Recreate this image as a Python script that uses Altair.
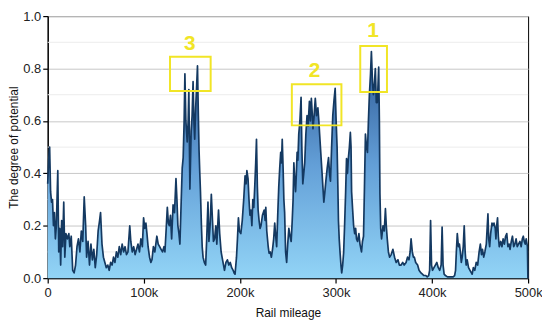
import altair as alt
import pandas as pd

# Rail mileage (in thousands) and the degree of potential
mileage_k = [0, 1, 2, 3, 4, 5, 6, 7, 8, 9, 10.5, 11.5, 12.5, 13.5, 14.5, 15.5, 16.7, 17.8, 19, 20.5,
             22, 23, 24.5, 26, 27.5, 29, 30.5, 32, 33.5, 35, 36.5, 38, 39.5, 40.5, 42, 43.5, 45, 46.5, 48, 49.5,
             51, 52.5, 54, 55, 56.5, 58, 59.5, 61, 62.5, 64, 65.5, 67, 68.5, 70, 71.5, 73, 74.5, 76, 77.5, 79,
             80.5, 82, 83.5, 85.4, 86.5, 88, 89.5, 91, 92.5, 94, 95.5, 97, 98.5, 99.8, 101, 102.2, 103.3, 104.5, 106, 107.4,
             108.5, 110, 111.5, 113.6, 115, 116.5, 118, 119.5, 121, 122, 123.5, 124.5, 125.6, 126.6, 127.8, 129, 130.5, 132, 133.5, 134.5,
             135.5, 136.6, 137.6, 139, 140, 141, 142, 142.8, 143.8, 145.2, 146.2, 146.9, 148, 149.3, 150.3, 151.3, 152.2, 153, 154, 155.1,
             155.9, 156.8, 157.5, 158.3, 159, 160, 160.8, 161.7, 163, 164.4, 165.5, 166.8, 167.8, 169, 170.3, 171.5, 172.5, 173.7, 175, 176,
             177.8, 179, 180.5, 182, 183, 184, 185.5, 187, 188.5, 190, 191.5, 193, 194, 195, 196.5, 197.5, 198.5, 199.5, 201, 202.5,
             204, 205.4, 206.5, 207.3, 208.5, 209.5, 210.5, 211.5, 212.5, 213.5, 214.5, 215.5, 216.5, 217.3, 218.2, 219, 220, 221, 222, 223.5,
             225.3, 226.3, 227, 228, 229.5, 230.4, 231.5, 232.8, 234, 235.2, 236.3, 237.3, 238.3, 239.5, 240.5, 241.5, 242.5, 243.3, 244.1, 245,
             245.8, 246.6, 247.6, 248.7, 249.8, 251, 252.2, 253.4, 254.5, 255.4, 256.2, 257, 258, 258.8, 259.6, 260.4, 261.3, 262.5, 263.7, 264.5,
             265.5, 266.5, 267.5, 268.7, 269.9, 271, 272.4, 273.4, 274.4, 275.3, 276.1, 277.3, 278.5, 279.8, 281.2, 282.2, 283, 284.2, 285.4, 286.4,
             287.4, 288.5, 289.5, 290.9, 292.3, 293.3, 294.3, 295.5, 296.7, 298, 299.2, 300.2, 301.2, 302, 302.6, 303.4, 304.3, 305.2, 306, 307,
             308, 309, 310.1, 311, 312, 312.9, 314, 315, 315.7, 316.3, 317.4, 318.4, 319.5, 320.5, 321.4, 322.5, 323.9, 325, 326.6, 327.6,
             328.7, 329.7, 330.7, 331.8, 332.8, 333.8, 334.8, 336, 336.9, 338, 339, 340, 341, 342, 343.1, 344.5, 345.2, 345.8, 346.6, 347.5,
             349, 350.3, 351.5, 352.4, 353.4, 354.6, 355.9, 357.5, 359.3, 361, 362.7, 364.5, 366, 367.8, 369.5, 371, 373, 374.5, 376, 377.2,
             378.2, 379.5, 380.6, 381.6, 383, 385, 386.5, 388.5, 390, 391.5, 393.6, 395, 396.5, 397.5, 398.5, 399.5, 400.5, 402, 403.5, 405,
             406.5, 408, 409.5, 410.5, 411.5, 412.6, 414, 416, 418, 420, 422, 423.5, 424.5, 425.3, 426.3, 427.5, 428.5, 429.5, 430.5, 431.4,
             432.5, 433.5, 434.5, 435.5, 436.6, 438, 439.5, 441, 441.8, 443, 444.5, 446, 447.5, 449, 450.3, 451.5, 452.5, 453.8, 455, 456.5,
             457.5, 458.2, 459, 460, 461, 462.4, 463.4, 464.5, 465.8, 466.5, 467.3, 468.2, 469, 470, 471.5, 472.8, 474, 475.3, 476.6, 477.8,
             479, 480.2, 481.2, 482.5, 483.7, 485, 486.2, 487.5, 488.7, 490, 491.5, 492.8, 494, 495, 496, 497, 498, 499.3, 499.8]

potential = [0.36, 0.45, 0.50, 0.33, 0.29, 0.30, 0.20, 0.25, 0.15, 0.20, 0.41, 0.10, 0.19, 0.05, 0.22, 0.12, 0.29, 0.08, 0.17, 0.15,
             0.17, 0.12, 0.16, 0.03, 0.02, 0.05, 0.12, 0.15, 0.10, 0.18, 0.14, 0.31, 0.20, 0.08, 0.14, 0.05, 0.13, 0.07, 0.11, 0.04,
             0.09, 0.18, 0.22, 0.25, 0.13, 0.08, 0.06, 0.04, 0.05, 0.03, 0.06, 0.05, 0.08, 0.06, 0.10, 0.08, 0.12, 0.09, 0.13, 0.10,
             0.12, 0.09, 0.10, 0.20, 0.14, 0.10, 0.12, 0.09, 0.11, 0.13, 0.10, 0.15, 0.12, 0.23, 0.19, 0.21, 0.17, 0.12, 0.08, 0.06,
             0.07, 0.12, 0.10, 0.16, 0.13, 0.12, 0.11, 0.10, 0.12, 0.10, 0.20, 0.27, 0.21, 0.20, 0.24, 0.15, 0.28, 0.25, 0.38, 0.30,
             0.20, 0.17, 0.13, 0.30, 0.42, 0.46, 0.60, 0.78, 0.60, 0.52, 0.60, 0.72, 0.34, 0.56, 0.62, 0.75, 0.60, 0.53, 0.65, 0.74,
             0.81, 0.62, 0.49, 0.40, 0.33, 0.20, 0.12, 0.08, 0.06, 0.05, 0.15, 0.29, 0.14, 0.20, 0.32, 0.22, 0.14, 0.15, 0.20, 0.13,
             0.26, 0.17, 0.10, 0.07, 0.05, 0.03, 0.06, 0.07, 0.05, 0.06, 0.04, 0.03, 0.02, 0.015, 0.08, 0.15, 0.23, 0.18, 0.17, 0.22,
             0.30, 0.39, 0.36, 0.41, 0.38, 0.30, 0.24, 0.26, 0.20, 0.30, 0.27, 0.35, 0.44, 0.53, 0.35, 0.26, 0.22, 0.19, 0.20, 0.24,
             0.26, 0.22, 0.27, 0.18, 0.12, 0.095, 0.10, 0.08, 0.11, 0.15, 0.21, 0.16, 0.12, 0.25, 0.35, 0.42, 0.48, 0.44, 0.53, 0.42,
             0.30, 0.25, 0.10, 0.06, 0.13, 0.19, 0.16, 0.14, 0.22, 0.30, 0.44, 0.38, 0.33, 0.40, 0.48, 0.45, 0.55, 0.60, 0.69, 0.50,
             0.36, 0.40, 0.44, 0.55, 0.62, 0.58, 0.675, 0.60, 0.686, 0.63, 0.57, 0.62, 0.686, 0.62, 0.65, 0.60, 0.55, 0.48, 0.41, 0.35,
             0.29, 0.33, 0.37, 0.42, 0.46, 0.40, 0.37, 0.50, 0.62, 0.68, 0.724, 0.60, 0.50, 0.35, 0.22, 0.15, 0.097, 0.05, 0.02, 0.05,
             0.097, 0.20, 0.33, 0.456, 0.40, 0.456, 0.50, 0.556, 0.50, 0.33, 0.26, 0.20, 0.17, 0.19, 0.15, 0.14, 0.17, 0.13, 0.10, 0.14,
             0.16, 0.35, 0.55, 0.50, 0.48, 0.60, 0.70, 0.78, 0.865, 0.75, 0.70, 0.74, 0.80, 0.67, 0.67, 0.805, 0.60, 0.32, 0.19, 0.15,
             0.20, 0.18, 0.265, 0.20, 0.15, 0.10, 0.08, 0.09, 0.11, 0.08, 0.06, 0.07, 0.05, 0.05, 0.06, 0.05, 0.06, 0.08, 0.07, 0.10,
             0.15, 0.10, 0.08, 0.08, 0.06, 0.05, 0.03, 0.02, 0.015, 0.01, 0.01, 0.005, 0.01, 0.03, 0.22, 0.05, 0.03, 0.04, 0.05, 0.06,
             0.04, 0.03, 0.05, 0.195, 0.05, 0.015, 0.01, 0.005, 0.005, 0.005, 0.005, 0.01, 0.03, 0.10, 0.17, 0.12, 0.13, 0.10, 0.06, 0.08,
             0.12, 0.20, 0.10, 0.05, 0.07, 0.04, 0.03, 0.02, 0.015, 0.04, 0.03, 0.06, 0.05, 0.10, 0.13, 0.09, 0.11, 0.08, 0.10, 0.13,
             0.20, 0.245, 0.15, 0.12, 0.17, 0.21, 0.20, 0.21, 0.19, 0.15, 0.20, 0.23, 0.16, 0.12, 0.14, 0.12, 0.15, 0.13, 0.16, 0.17,
             0.12, 0.13, 0.11, 0.14, 0.16, 0.12, 0.13, 0.15, 0.12, 0.13, 0.14, 0.12, 0.15, 0.16, 0.14, 0.13, 0.15, 0.12, 0.0]

# Highlight boxes and their numbers
box_labels = ["1", "2", "3"]
box_x1 = [325300, 254100, 127300]
box_x2 = [353100, 305700, 169600]
box_y1 = [0.710, 0.583, 0.714]
box_y2 = [0.886, 0.740, 0.845]
label_x = [338700, 277800, 148000]
label_y = [0.943, 0.789, 0.894]

x_ticks = [0, 100000, 200000, 300000, 400000, 500000]
y_ticks = [0.0, 0.2, 0.4, 0.6, 0.8, 1.0]
minor_grid = [0.1, 0.3, 0.5, 0.7, 0.9]

df = pd.DataFrame({"mileage": [m * 1000 for m in mileage_k], "potential": potential})
boxes = pd.DataFrame({"label": box_labels, "x1": box_x1, "x2": box_x2, "y1": box_y1, "y2": box_y2,
                      "lx": label_x, "ly": label_y})
minor_df = pd.DataFrame({"v": minor_grid})

FONT = "Liberation Sans"
YELLOW = "#f1e526"

x_enc = alt.X("mileage:Q",
              scale=alt.Scale(domain=[0, 500000], nice=False, zero=False),
              axis=alt.Axis(values=x_ticks,
                            labelExpr="datum.value == 0 ? '0' : format(datum.value, '~s')",
                            title="Rail mileage", grid=False, labelFlush=False,
                            titlePadding=9))
y_enc = alt.Y("potential:Q",
              scale=alt.Scale(domain=[0, 1], nice=False),
              axis=alt.Axis(values=y_ticks, format=".1f", title="The degree of potential",
                            grid=True, labelFlush=False, titlePadding=2, labelPadding=2))

minor = alt.Chart(minor_df).mark_rule(color="#ececec", strokeWidth=1).encode(
    y=alt.Y("v:Q", scale=alt.Scale(domain=[0, 1], nice=False))
)

gradient = alt.Gradient(
    gradient="linear",
    stops=[alt.GradientStop(color="#92d4f6", offset=0),
           alt.GradientStop(color="#639fd7", offset=0.5),
           alt.GradientStop(color="#2c5794", offset=1)],
    x1=1, x2=1, y1=1, y2=0,
)

area = alt.Chart(df).mark_area(color=gradient, interpolate="linear").encode(x=x_enc, y=y_enc)
line = alt.Chart(df).mark_line(color="#143961", strokeWidth=1.7, interpolate="linear",
                               strokeJoin="round").encode(
    x="mileage:Q", y="potential:Q")

rects = alt.Chart(boxes).mark_rect(fillOpacity=0, stroke=YELLOW, strokeWidth=2).encode(
    x="x1:Q", x2="x2:Q", y="y1:Q", y2="y2:Q")
labels = alt.Chart(boxes).mark_text(font=FONT, fontSize=21, fontWeight="bold", color=YELLOW,
                                    baseline="middle", align="center").encode(
    x="lx:Q", y="ly:Q", text="label:N")

chart = alt.layer(minor, area, line, rects, labels).properties(
    width=484, height=264,
    autosize=alt.AutoSizeParams(type="none"),
    padding={"left": 40, "top": 7, "right": 14, "bottom": 42},
).configure_view(
    stroke="#000000", strokeWidth=1
).configure_axis(
    labelFont=FONT, labelFontSize=13, labelColor="#222222",
    titleFont=FONT, titleFontSize=12, titleFontWeight="normal", titleColor="#111111",
    domainColor="#000000", domainWidth=1.2, tickColor="#000000", tickSize=5, tickWidth=1.2,
    gridColor="#c8c8c8", gridWidth=1, labelPadding=3,
)

chart.save("out.html", embed_options={"renderer": "svg", "actions": False})
